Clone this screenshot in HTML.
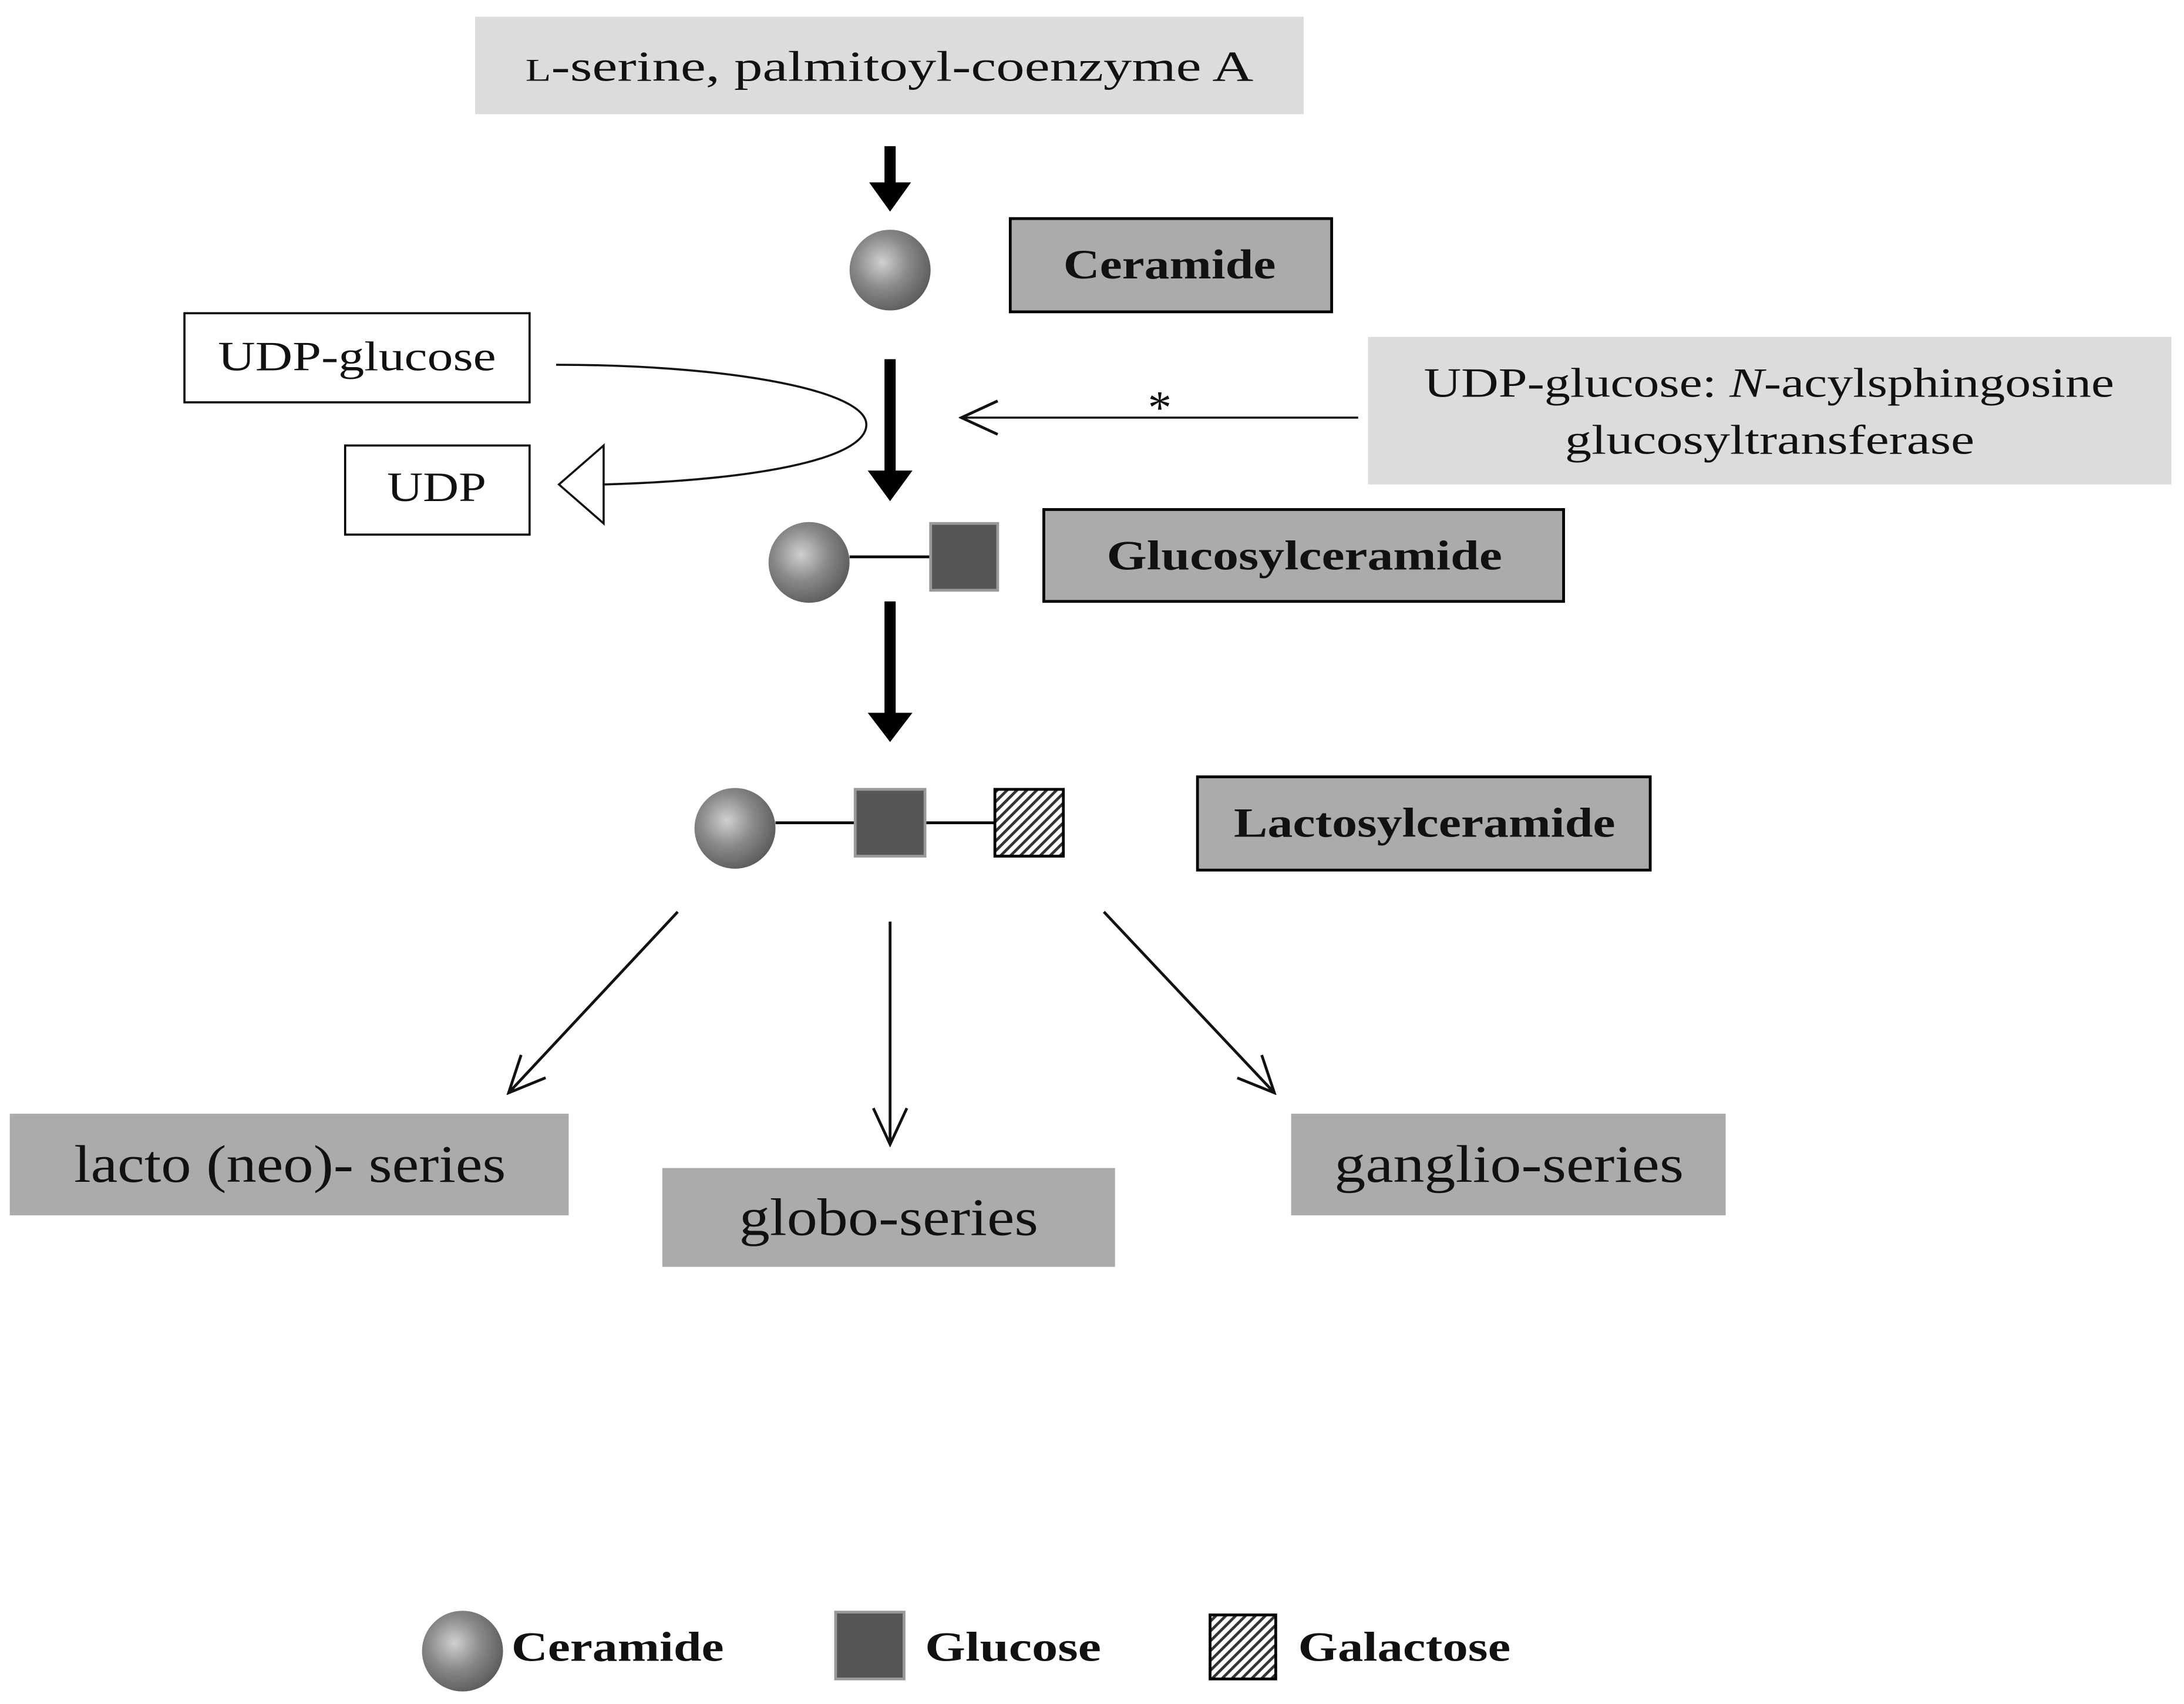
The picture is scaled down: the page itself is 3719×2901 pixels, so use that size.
<!DOCTYPE html>
<html><head><meta charset="utf-8"><style>
html,body{margin:0;padding:0;background:#fff;}
svg{display:block;}
text{font-family:"Liberation Serif",serif;fill:#111;}
</style></head><body>
<svg width="3719" height="2901" viewBox="0 0 1563 1224" preserveAspectRatio="none" xmlns="http://www.w3.org/2000/svg">
<defs>
<radialGradient id="ball" cx="0.4" cy="0.4" r="0.65">
<stop offset="0" stop-color="#d0d0d0"/><stop offset="0.5" stop-color="#8a8a8a"/><stop offset="1" stop-color="#5a5a5a"/>
</radialGradient>
<pattern id="hatch" width="5" height="5" patternUnits="userSpaceOnUse" patternTransform="rotate(45)">
<rect width="5" height="5" fill="#fff"/><rect width="2" height="5" fill="#333"/>
</pattern>
<marker id="open2" markerWidth="30" markerHeight="30" refX="28" refY="14" orient="auto" markerUnits="userSpaceOnUse"><path d="M2,2 L28,14 L2,26" fill="none" stroke="#111" stroke-width="2"/></marker>
</defs>

<rect x="340" y="12" width="593" height="70" fill="#dcdcdc"/>
<text x="376" y="58" font-size="31" textLength="521" lengthAdjust="spacingAndGlyphs"><tspan font-size="23">L</tspan>-serine, palmitoyl-coenzyme A</text>

<rect x="633" y="105" width="8" height="28" fill="#000"/><path d="M622,131 L652,131 L637,152 Z" fill="#000"/>
<rect x="633" y="258" width="8" height="82" fill="#000"/><path d="M621,338 L653,338 L637,360 Z" fill="#000"/>
<rect x="633" y="432" width="8" height="82" fill="#000"/><path d="M621,512 L653,512 L637,533 Z" fill="#000"/>

<circle cx="637" cy="194" r="29" fill="url(#ball)"/>
<rect x="723" y="157" width="230" height="67" fill="#ababab" stroke="#000" stroke-width="2"/>
<text x="761" y="200" font-size="30" font-weight="bold" textLength="152" lengthAdjust="spacingAndGlyphs">Ceramide</text>

<rect x="132" y="225" width="247" height="64" fill="#fff" stroke="#000" stroke-width="1.5"/>
<text x="156" y="266" font-size="30" textLength="199" lengthAdjust="spacingAndGlyphs">UDP-glucose</text>
<rect x="247" y="320" width="132" height="64" fill="#fff" stroke="#000" stroke-width="1.5"/>
<text x="277" y="360" font-size="30" textLength="71" lengthAdjust="spacingAndGlyphs">UDP</text>

<path d="M398,262 C520,262 620,280 620,305 C620,330 540,345 432,348" fill="none" stroke="#111" stroke-width="1.5"/>
<path d="M432,320 L400,348 L432,376 Z" fill="#fff" stroke="#111" stroke-width="1.5"/>

<line x1="972" y1="300" x2="688" y2="300" stroke="#111" stroke-width="1.5" marker-end="url(#open2)"/>
<text x="830" y="304" font-size="34" text-anchor="middle">*</text>
<rect x="979" y="242" width="575" height="106" fill="#dcdcdc"/>
<text x="1019" y="285" font-size="30" textLength="494" lengthAdjust="spacingAndGlyphs">UDP-glucose: <tspan font-style="italic">N</tspan>-acylsphingosine</text>
<text x="1120" y="326" font-size="30" textLength="293" lengthAdjust="spacingAndGlyphs">glucosyltransferase</text>

<line x1="608" y1="400" x2="666" y2="400" stroke="#000" stroke-width="2"/>
<circle cx="579" cy="404" r="29" fill="url(#ball)"/>
<rect x="666" y="376" width="48" height="48" fill="#565656" stroke="#999" stroke-width="2"/>
<rect x="747" y="366" width="372" height="66" fill="#ababab" stroke="#000" stroke-width="2"/>
<text x="792" y="409" font-size="30" font-weight="bold" textLength="283" lengthAdjust="spacingAndGlyphs">Glucosylceramide</text>

<line x1="555" y1="591" x2="712" y2="591" stroke="#000" stroke-width="2"/>
<circle cx="526" cy="595" r="29" fill="url(#ball)"/>
<rect x="612" y="567" width="50" height="48" fill="#565656" stroke="#999" stroke-width="2"/>
<rect x="712" y="567" width="49" height="48" fill="url(#hatch)" stroke="#000" stroke-width="2"/>
<rect x="857" y="558" width="324" height="67" fill="#ababab" stroke="#000" stroke-width="2"/>
<text x="883" y="601" font-size="30" font-weight="bold" textLength="273" lengthAdjust="spacingAndGlyphs">Lactosylceramide</text>

<line x1="485" y1="655" x2="364" y2="785" stroke="#111" stroke-width="2" marker-end="url(#open2)"/>
<line x1="637" y1="662" x2="637" y2="822" stroke="#111" stroke-width="2" marker-end="url(#open2)"/>
<line x1="790" y1="655" x2="912" y2="785" stroke="#111" stroke-width="2" marker-end="url(#open2)"/>

<rect x="7" y="800" width="400" height="73" fill="#ababab"/>
<text x="53" y="849" font-size="38" textLength="309" lengthAdjust="spacingAndGlyphs">lacto (neo)- series</text>
<rect x="474" y="839" width="324" height="71" fill="#ababab"/>
<text x="529" y="887" font-size="38" textLength="214" lengthAdjust="spacingAndGlyphs">globo-series</text>
<rect x="924" y="800" width="311" height="73" fill="#ababab"/>
<text x="955" y="849" font-size="38" textLength="250" lengthAdjust="spacingAndGlyphs">ganglio-series</text>

<circle cx="331" cy="1186" r="29" fill="url(#ball)"/>
<text x="366" y="1193" font-size="30" font-weight="bold" textLength="152" lengthAdjust="spacingAndGlyphs">Ceramide</text>
<rect x="598" y="1158" width="49" height="48" fill="#565656" stroke="#999" stroke-width="2"/>
<text x="662" y="1193" font-size="30" font-weight="bold" textLength="126" lengthAdjust="spacingAndGlyphs">Glucose</text>
<rect x="866" y="1160" width="47" height="46" fill="url(#hatch)" stroke="#000" stroke-width="2"/>
<text x="929" y="1193" font-size="30" font-weight="bold" textLength="152" lengthAdjust="spacingAndGlyphs">Galactose</text>
</svg>
</body></html>
